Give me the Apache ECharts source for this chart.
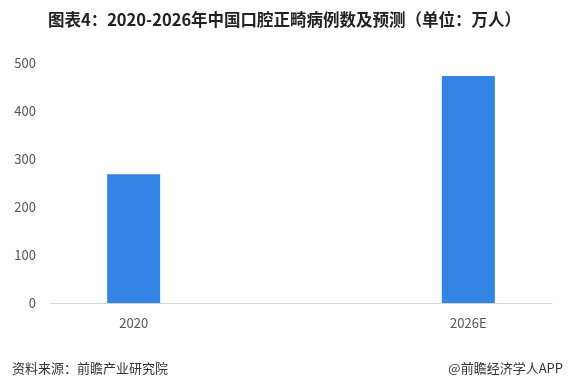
<!DOCTYPE html>
<html><head><meta charset="utf-8">
<script src="https://cdn.jsdelivr.net/npm/echarts@6/dist/echarts.min.js"></script>
<style>html,body{margin:0;padding:0;background:#fff}#c{width:569px;height:382px}</style>
</head><body><div id="c"></div>
<script>
const categories = ['2020', '', '2026E'];
const cases = [268, null, 473];
const yTicks = { min: 0, max: 500, interval: 100 };
const titleText = '图表4：2020-2026年中国口腔正畸病例数及预测（单位：万人）';
const sourceText = '资料来源：前瞻产业研究院';
const brandText = '@前瞻经济学人APP';

const chart = echarts.init(document.getElementById('c'), null, { renderer: 'canvas' });
const font = '"Noto Sans CJK SC", "Noto Sans", sans-serif';
chart.setOption({
  backgroundColor: '#fff',
  animation: false,
  title: [
    { text: titleText, left: 'center', top: 6,
      textStyle: { fontFamily: font, fontSize: 16.5, fontWeight: 'bold', color: '#222' } },
    { text: sourceText, left: 7, top: 357,
      textStyle: { fontFamily: font, fontSize: 13, fontWeight: 'normal', color: '#333' } },
    { text: brandText, right: 1, top: 357,
      textStyle: { fontFamily: font, fontSize: 13, fontWeight: 'normal', color: '#333' } }
  ],
  grid: { left: 50, right: 17, top: 63, bottom: 79, containLabel: false },
  xAxis: {
    type: 'category', data: categories,
    axisLine: { show: true, lineStyle: { color: '#d4d4d4', width: 1 } },
    axisTick: { show: false },
    axisLabel: { color: '#555', fontSize: 13, fontFamily: font, margin: 14 }
  },
  yAxis: {
    type: 'value', min: yTicks.min, max: yTicks.max, interval: yTicks.interval,
    axisLine: { show: false }, axisTick: { show: false },
    splitLine: { show: false },
    axisLabel: { color: '#555', fontSize: 13, fontFamily: font, margin: 14 }
  },
  series: [{
    type: 'bar', data: cases, barWidth: 53,
    itemStyle: { color: '#3484e5' }
  }]
});
</script></body></html>
